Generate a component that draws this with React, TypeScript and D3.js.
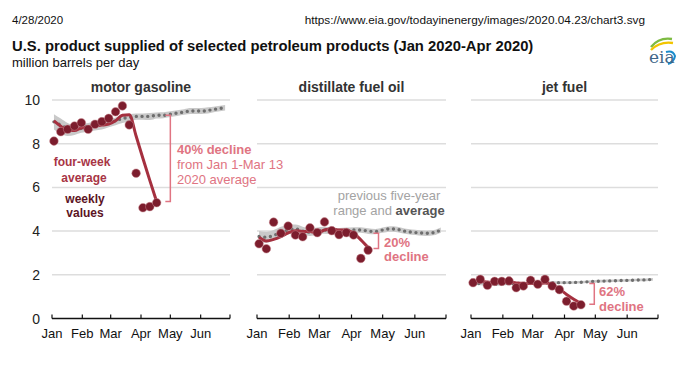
import React from "react";
import * as d3 from "d3";

// week-ending dates for the weekly series (2020)
const weeks = [
  "2020-01-03", "2020-01-10", "2020-01-17", "2020-01-24", "2020-01-31",
  "2020-02-07", "2020-02-14", "2020-02-21", "2020-02-28", "2020-03-06",
  "2020-03-13", "2020-03-20", "2020-03-27", "2020-04-03", "2020-04-10",
  "2020-04-17", "2020-04-24", "2020-05-01", "2020-05-08", "2020-05-15",
  "2020-05-22", "2020-05-29", "2020-06-05", "2020-06-12", "2020-06-19",
  "2020-06-26",
];
const monthTicks = ["2020-01-01", "2020-02-01", "2020-03-01", "2020-04-01", "2020-05-01", "2020-06-01", "2020-07-01"];
const monthLabels = ["Jan", "Feb", "Mar", "Apr", "May", "Jun"];
const yTicks = [0, 2, 4, 6, 8, 10];

const panelTitles = ["motor gasoline", "distillate fuel oil", "jet fuel"];

// weekly values 2020 (Jan 3 - Apr 17)
const gasWeekly = [8.12, 8.55, 8.66, 8.81, 8.96, 8.66, 8.89, 9.01, 9.16, 9.46, 9.73, 8.86, 6.65, 5.07, 5.12, 5.3];
const distWeekly = [3.42, 3.19, 4.41, 3.9, 4.23, 3.82, 3.74, 4.15, 3.93, 4.42, 4.02, 3.84, 3.93, 3.82, 2.75, 3.13];
const jetWeekly = [1.64, 1.79, 1.52, 1.7, 1.7, 1.72, 1.41, 1.49, 1.75, 1.57, 1.79, 1.49, 1.32, 0.79, 0.57, 0.63];

// four-week averages 2020
const gasAvg4 = [9.05, 8.8, 8.6, 8.6, 8.72, 8.75, 8.82, 8.85, 8.9, 9.05, 9.3, 9.33, 8.35, 7.32, 6.32, 5.35];
const distAvg4 = [3.72, 3.55, 3.62, 3.75, 3.92, 4.02, 3.98, 3.98, 3.9, 4.05, 4.1, 4.05, 4.05, 3.9, 3.6, 3.25];
const jetAvg4 = [1.68, 1.7, 1.67, 1.65, 1.67, 1.68, 1.63, 1.6, 1.6, 1.6, 1.62, 1.55, 1.35, 1.1, 0.88, 0.68];

// previous five-year average and range (2015-2019)
const gasAvg5 = [9.0, 8.85, 8.7, 8.65, 8.7, 8.8, 8.85, 8.9, 8.95, 9.05, 9.15, 9.2, 9.25, 9.25, 9.25, 9.3, 9.3, 9.35, 9.4, 9.45, 9.5, 9.5, 9.5, 9.55, 9.6, 9.65];
const gasLow5 = [8.65, 8.45, 8.35, 8.4, 8.5, 8.55, 8.6, 8.65, 8.75, 8.85, 8.95, 9.02, 9.1, 9.1, 9.08, 9.15, 9.17, 9.22, 9.27, 9.32, 9.36, 9.36, 9.37, 9.42, 9.47, 9.52];
const gasHigh5 = [9.35, 9.15, 8.95, 8.85, 8.9, 8.95, 9.0, 9.05, 9.1, 9.2, 9.3, 9.35, 9.38, 9.38, 9.4, 9.43, 9.44, 9.48, 9.53, 9.58, 9.63, 9.63, 9.65, 9.68, 9.72, 9.77];

const distAvg5 = [3.75, 3.72, 3.8, 3.95, 4.05, 4.1, 4.0, 3.95, 4.0, 4.05, 4.0, 4.0, 4.02, 4.05, 4.05, 4.0, 3.98, 4.05, 4.1, 4.08, 4.0, 3.95, 3.92, 3.9, 3.93, 4.05];
const distLow5 = [3.5, 3.47, 3.57, 3.72, 3.85, 3.9, 3.82, 3.78, 3.83, 3.88, 3.85, 3.86, 3.88, 3.91, 3.92, 3.87, 3.86, 3.92, 3.97, 3.95, 3.88, 3.83, 3.8, 3.78, 3.81, 3.93];
const distHigh5 = [4.0, 3.97, 4.05, 4.2, 4.28, 4.3, 4.2, 4.13, 4.17, 4.2, 4.15, 4.14, 4.16, 4.18, 4.18, 4.13, 4.1, 4.17, 4.22, 4.2, 4.12, 4.07, 4.04, 4.02, 4.05, 4.17];

const jetAvg5 = [1.62, 1.6, 1.58, 1.57, 1.58, 1.6, 1.6, 1.6, 1.62, 1.63, 1.63, 1.64, 1.64, 1.64, 1.65, 1.66, 1.68, 1.7, 1.71, 1.72, 1.73, 1.74, 1.75, 1.76, 1.77, 1.79];
const jetLow5 = [1.54, 1.52, 1.5, 1.5, 1.51, 1.53, 1.53, 1.53, 1.55, 1.56, 1.57, 1.58, 1.58, 1.58, 1.59, 1.6, 1.62, 1.64, 1.65, 1.66, 1.67, 1.68, 1.69, 1.7, 1.71, 1.73];
const jetHigh5 = [1.7, 1.68, 1.66, 1.64, 1.65, 1.67, 1.67, 1.67, 1.69, 1.7, 1.7, 1.7, 1.7, 1.7, 1.71, 1.72, 1.74, 1.76, 1.77, 1.78, 1.79, 1.8, 1.81, 1.82, 1.83, 1.85];

// decline brackets: [date, top, bottom]
const gasBracket = ["2020-05-01", 9.3, 5.35];
const distBracket = ["2020-04-27", 3.9, 3.2];
const jetBracket = ["2020-04-30", 1.6, 0.65];

const RED_DOT = "#7c1d2d";
const RED_LINE = "#a5303f";
const PINK = "#e07482";
const FONT = "'Liberation Sans', Arial, Helvetica, sans-serif";

const parse = d3.timeParse("%Y-%m-%d");

const panels = [
  { title: panelTitles[0], range: [52, 230], weekly: gasWeekly, avg4: gasAvg4, avg5: gasAvg5, low5: gasLow5, high5: gasHigh5, bracket: gasBracket },
  { title: panelTitles[1], range: [257, 446], weekly: distWeekly, avg4: distAvg4, avg5: distAvg5, low5: distLow5, high5: distHigh5, bracket: distBracket },
  { title: panelTitles[2], range: [471, 658], weekly: jetWeekly, avg4: jetAvg4, avg5: jetAvg5, low5: jetLow5, high5: jetHigh5, bracket: jetBracket },
];

function Panel({ p, index }: { p: any; index: number }) {
  const x = d3.scaleTime().domain([parse("2020-01-01")!, parse("2020-07-01")!]).range(p.range);
  const y = d3.scaleLinear().domain([0, 10]).range([318.5, 100]);
  const dates = weeks.map((w) => parse(w)!);

  const area = d3
    .area<number>()
    .x((_, i) => x(dates[i]))
    .y0((_, i) => y(p.low5[i]))
    .y1((_, i) => y(p.high5[i]))
    .curve(d3.curveMonotoneX);
  const line5 = d3
    .line<number>()
    .x((_, i) => x(dates[i]))
    .y((d) => y(d))
    .curve(d3.curveMonotoneX);
  const line4 = d3
    .line<number>()
    .x((_, i) => x(dates[i]))
    .y((d) => y(d))
    .curve(d3.curveMonotoneX);

  const [bd, btop, bbot] = p.bracket;
  const bx = x(parse(bd)!);
  const [x0, x1] = p.range;
  const cx = (x0 + x1) / 2;

  return (
    <g>
      <text x={cx} y={92} textAnchor="middle" fontSize={14} fontWeight="bold" fill="#333">
        {p.title}
      </text>
      {yTicks.filter((t) => t > 0).map((t) => (
        <line key={t} x1={x0} x2={x1} y1={y(t)} y2={y(t)} stroke="#dddddd" strokeWidth={1.5} />
      ))}
      {index === 0 &&
        yTicks.map((t) => (
          <text key={t} x={40} y={y(t)} dy="0.36em" textAnchor="end" fontSize={14} fill="#222">
            {t}
          </text>
        ))}
      <path d={area(p.low5) || ""} fill="#c9c9c9" />
      <path d={line5(p.avg5) || ""} fill="none" stroke="#6e6e6e" strokeWidth={3.4} strokeLinecap="round" strokeDasharray="0 5.7" />
      <path d={line4(p.avg4) || ""} fill="none" stroke={RED_LINE} strokeWidth={3} strokeLinejoin="round" />
      {p.weekly.map((v: number, i: number) => (
        <circle key={i} cx={x(dates[i])} cy={y(v)} r={4.3} fill={RED_DOT} stroke="#c9868f" strokeWidth={0.5} />
      ))}
      <path
        d={`M${bx - 5},${y(btop)}H${bx}V${y(bbot)}H${bx - 5}`}
        fill="none"
        stroke={PINK}
        strokeWidth={1.5}
      />
      <line x1={x0} x2={x1} y1={y(0)} y2={y(0)} stroke="#111" strokeWidth={1.5} />
      {monthTicks.map((m) => (
        <line key={m} x1={x(parse(m)!)} x2={x(parse(m)!)} y1={y(0)} y2={y(0) - 4} stroke="#111" strokeWidth={1.2} />
      ))}
      {monthLabels.map((m, i) => (
        <text key={m} x={x(parse(monthTicks[i])!)} y={338} textAnchor="middle" fontSize={13} fill="#111">
          {m}
        </text>
      ))}
    </g>
  );
}

export default function App() {
  return (
    <svg
      width={700}
      height={371}
      style={{ position: "absolute", left: 0, top: 0, background: "#fff" }}
      fontFamily={FONT}
    >
      <rect width={700} height={371} fill="#fff" />
      <text x={12} y={24} fontSize={11.5} fill="#111">4/28/2020</text>
      <text x={645} y={24} fontSize={11.8} fill="#111" textAnchor="end">
        https://www.eia.gov/todayinenergy/images/2020.04.23/chart3.svg
      </text>
      <text x={12} y={51} fontSize={14.8} fontWeight="bold" fill="#111">
        U.S. product supplied of selected petroleum products (Jan 2020-Apr 2020)
      </text>
      <text x={12} y={67} fontSize={13} fill="#111">million barrels per day</text>

      {/* eia logo */}
      <g>
        <path d="M651,47 Q659,37 672,39" fill="none" stroke="#7dbb42" strokeWidth={2.4} />
        <path d="M651,50 Q660,41 673,43" fill="none" stroke="#f2c500" strokeWidth={2.4} />
        <path d="M666,52 Q673,50 675,56 Q674,62 668,64" fill="none" stroke="#1b8ccc" strokeWidth={2} />
        <text x={649} y={63} fontSize={17} fontFamily="'DejaVu Serif', serif" fill="#3f6688">eia</text>
      </g>

      {panels.map((p, i) => (
        <Panel key={p.title} p={p} index={i} />
      ))}

      {/* legend-like annotations */}
      <g fontSize={12} fontWeight="bold" textAnchor="middle">
        <text x={82} y={166} fill="#a83545">four-week</text>
        <text x={84} y={182} fill="#a83545">average</text>
        <text x={85} y={203} fill="#5c1424">weekly</text>
        <text x={85} y={217} fill="#5c1424">values</text>
      </g>
      <g fontSize={13} fill={PINK}>
        <text x={177} y={154} fontWeight="bold">40% decline</text>
        <text x={177} y={169}>from Jan 1-Mar 13</text>
        <text x={177} y={184}>2020 average</text>
        <text x={384} y={247} fontWeight="bold">20%</text>
        <text x={384} y={261} fontWeight="bold">decline</text>
        <text x={599} y={296} fontWeight="bold">62%</text>
        <text x={599} y={311} fontWeight="bold">decline</text>
      </g>
      <g fontSize={13} textAnchor="middle">
        <text x={389} y={200} fill="#a3a3a3">previous five-year</text>
        <text x={389} y={215} fill="#a3a3a3">
          range and <tspan fontWeight="bold" fill="#555">average</tspan>
        </text>
      </g>
    </svg>
  );
}
